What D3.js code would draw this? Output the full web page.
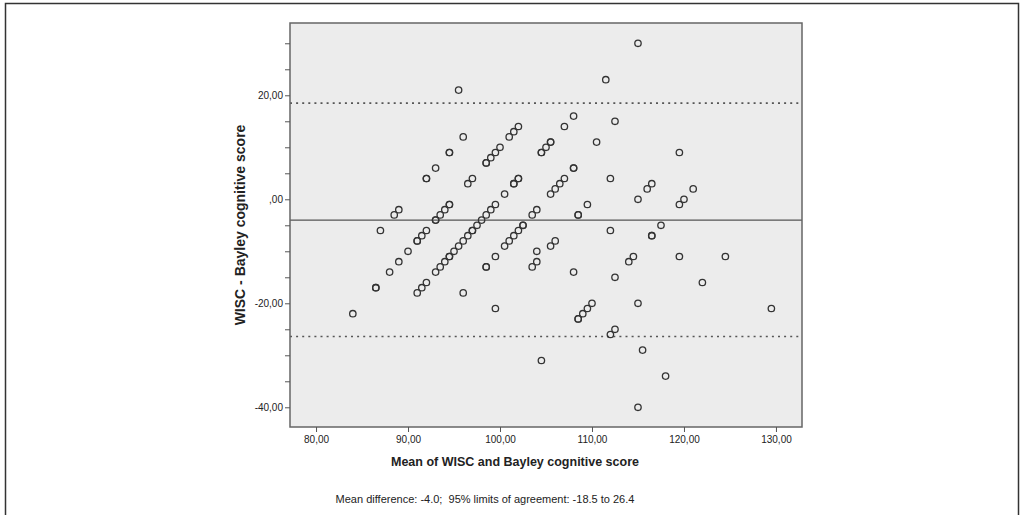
<!DOCTYPE html>
<html lang="en">
<head>
    <meta charset="UTF-8">
    <title>Bland-Altman WISC vs Bayley</title>
    <script src="https://d3js.org/d3.v7.min.js"></script>
    <style>
        body{
            margin:0;
            background:white;
        }
        text{
            font-family: "Liberation Sans", Arial, sans-serif;
            fill:#222;
        }
        .tick text{
            font-size:10px;
        }
        .dot{
            fill:none;
            stroke:#333;
            stroke-width:1.3;
        }
    </style>
</head>
<body>
    <script>
        // mean of the two scores (x) and WISC - Bayley difference (y)
        var meanScore = [84, 86.5, 86.5, 87, 88, 88.5, 89, 89, 90, 91, 91, 91.5, 92, 91, 91.5, 92, 92, 92, 93,
            94.5, 94.5, 93, 93.5, 94, 94.5, 94.5, 95, 95.5, 96, 96.5, 97, 97, 97.5, 98, 98.5, 99, 99.5,
            93, 93, 93.5, 94, 94.5, 94.5, 95.5, 96, 96, 96.5, 97, 98.5, 98.5, 99, 99.5, 100, 101, 101.5, 102,
            98.5, 98.5, 99.5, 99.5, 100.5, 101.5, 101.5, 102, 102, 100.5, 101, 101.5, 102, 102.5, 102.5,
            103.5, 104, 104, 104, 103.5, 104.5, 104.5, 105, 105.5, 105.5, 105.5, 106, 104.5,
            105.5, 106, 106.5, 107, 107, 108, 108, 108, 108, 108.5, 108.5, 109.5, 110.5, 111.5, 112.5, 112, 112,
            115, 119.5, 108.5, 108.5, 109, 109.5, 110, 112.5, 112, 112.5, 114, 114.5, 115, 115, 116, 116.5,
            116.5, 116.5, 117.5, 115.5, 118, 115, 119.5, 120, 121, 119.5, 122, 124.5, 129.5];
        var diffScore = [-22, -17, -17, -6, -14, -3, -2, -12, -10, -8, -8, -7, -6, -18, -17, -16, 4, 4, 6,
            9, 9, -14, -13, -12, -11, -11, -10, -9, -8, -7, -6, -6, -5, -4, -3, -2, -1,
            -4, -4, -3, -2, -1, -1, 21, 12, -18, 3, 4, 7, 7, 8, 9, 10, 12, 13, 14,
            -13, -13, -11, -21, 1, 3, 3, 4, 4, -9, -8, -7, -6, -5, -5,
            -3, -2, -10, -12, -13, 9, 9, 10, 11, 11, -9, -8, -31,
            1, 2, 3, 4, 14, 16, 6, 6, -14, -3, -3, -1, 11, 23, 15, 4, -6,
            30, 9, -23, -23, -22, -21, -20, -15, -26, -25, -12, -11, -20, 0, 2, 3,
            -7, -7, -5, -29, -34, -40, -1, 0, 2, -11, -16, -11, -21];
        var meanDiff = -4.0;
        var limits = [18.5, -26.4];
        var xTicks = [80, 90, 100, 110, 120, 130];
        var yTicks = [-40, -35, -30, -25, -20, -15, -10, -5, 0, 5, 10, 15, 20, 25, 30];
        var yLabelled = [-40, -20, 0, 20];

        var svg = d3.select("body").append("svg")
                    .attr("width", 1025).attr("height", 515);

        // outer frame
        svg.append("rect")
           .attr("x", 5.5).attr("y", 3.5)
           .attr("width", 1013).attr("height", 530)
           .attr("fill", "none").attr("stroke", "#333").attr("stroke-width", 1.5);

        var pLeft = 290, pRight = 802, pTop = 23, pBottom = 427;
        var x = d3.scaleLinear().domain([77.17, 132.83]).range([pLeft, pRight]);
        var y = d3.scaleLinear().domain([33.9, -43.79]).range([pTop, pBottom]);

        svg.append("rect")
           .attr("x", pLeft).attr("y", pTop)
           .attr("width", pRight - pLeft).attr("height", pBottom - pTop)
           .attr("fill", "#ececec");

        // mean line and limits of agreement
        svg.append("line")
           .attr("x1", pLeft).attr("x2", pRight)
           .attr("y1", y(meanDiff)).attr("y2", y(meanDiff))
           .attr("stroke", "#555").attr("stroke-width", 1.3);
        svg.selectAll(".limit").data(limits).enter().append("line")
           .attr("class", "limit")
           .attr("x1", pLeft).attr("x2", pRight)
           .attr("y1", function(d){return y(d);}).attr("y2", function(d){return y(d);})
           .attr("stroke", "#555").attr("stroke-width", 1.6)
           .attr("stroke-dasharray", "2,4.1");

        var pts = meanScore.map(function(m, i){return {m: m, d: diffScore[i]};});
        svg.append("g").selectAll("circle").data(pts).enter().append("circle")
           .attr("class", "dot")
           .attr("cx", function(d){return x(d.m);})
           .attr("cy", function(d){return y(d.d);})
           .attr("r", 3.2);

        // plot border
        svg.append("rect")
           .attr("x", pLeft).attr("y", pTop)
           .attr("width", pRight - pLeft).attr("height", pBottom - pTop)
           .attr("fill", "none").attr("stroke", "#666").attr("stroke-width", 1.5);

        var xAxis = svg.append("g")
           .attr("transform", "translate(0," + pBottom + ")")
           .call(d3.axisBottom(x).tickValues(xTicks).tickSize(5).tickPadding(4)
                 .tickFormat(function(v){return v + ",00";}));
        var yAxis = svg.append("g")
           .attr("transform", "translate(" + pLeft + ",0)")
           .call(d3.axisLeft(y).tickValues(yTicks).tickSize(5).tickPadding(2)
                 .tickFormat(function(v){
                     if (yLabelled.indexOf(v) < 0) return "";
                     return v === 0 ? ",00" : v + ",00";
                 }));
        [xAxis, yAxis].forEach(function(a){
            a.select(".domain").remove();
            a.selectAll(".tick line").attr("stroke", "#555");
        });

        svg.append("text")
           .attr("x", 515).attr("y", 466)
           .attr("text-anchor", "middle")
           .style("font-size", "12.5px").style("font-weight", "bold")
           .text("Mean of WISC and Bayley cognitive score");

        svg.append("text")
           .attr("transform", "translate(245,225) rotate(-90)")
           .attr("text-anchor", "middle")
           .style("font-size", "14px").style("font-weight", "bold")
           .text("WISC - Bayley cognitive score");

        svg.append("text")
           .attr("x", 485).attr("y", 503)
           .attr("text-anchor", "middle")
           .style("font-size", "11px")
           .attr("xml:space", "preserve")
           .text("Mean difference: -4.0;  95% limits of agreement: -18.5 to 26.4");
    </script>
</body>
</html>
